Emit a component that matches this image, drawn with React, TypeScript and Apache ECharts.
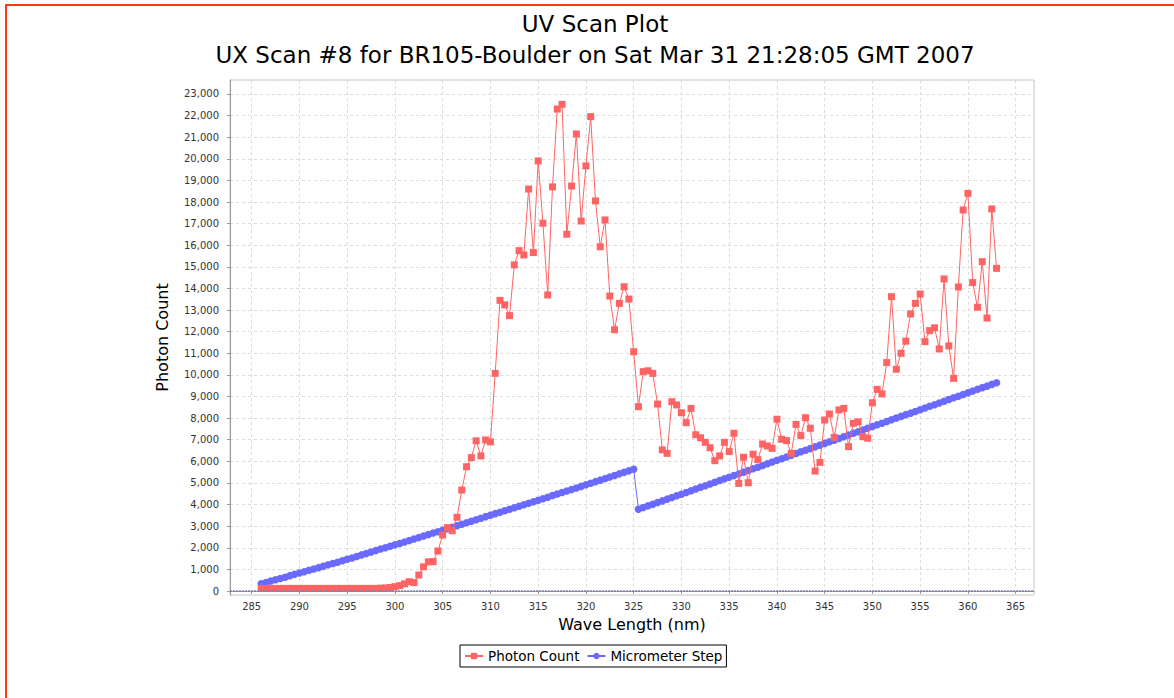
import React, { useEffect, useRef } from "react";
import * as echarts from "echarts";

const TITLE = "UV Scan Plot";
const SUBTITLE = "UX Scan #8 for BR105-Boulder on Sat Mar 31 21:28:05 GMT 2007";
const X_NAME = "Wave Length (nm)";
const Y_NAME = "Photon Count";
const SERIES_NAMES = ["Photon Count", "Micrometer Step"];

const WAVELENGTHS = [
  286, 286.5, 287, 287.5, 288, 288.5, 289, 289.5, 290, 290.5, 291, 291.5, 292, 292.5, 293, 293.5,
  294, 294.5, 295, 295.5, 296, 296.5, 297, 297.5, 298, 298.5, 299, 299.5, 300, 300.5, 301, 301.5,
  302, 302.5, 303, 303.5, 304, 304.5, 305, 305.5, 306, 306.5, 307, 307.5, 308, 308.5, 309, 309.5,
  310, 310.5, 311, 311.5, 312, 312.5, 313, 313.5, 314, 314.5, 315, 315.5, 316, 316.5, 317, 317.5,
  318, 318.5, 319, 319.5, 320, 320.5, 321, 321.5, 322, 322.5, 323, 323.5, 324, 324.5, 325, 325.5,
  326, 326.5, 327, 327.5, 328, 328.5, 329, 329.5, 330, 330.5, 331, 331.5, 332, 332.5, 333, 333.5,
  334, 334.5, 335, 335.5, 336, 336.5, 337, 337.5, 338, 338.5, 339, 339.5, 340, 340.5, 341, 341.5,
  342, 342.5, 343, 343.5, 344, 344.5, 345, 345.5, 346, 346.5, 347, 347.5, 348, 348.5, 349, 349.5,
  350, 350.5, 351, 351.5, 352, 352.5, 353, 353.5, 354, 354.5, 355, 355.5, 356, 356.5, 357, 357.5,
  358, 358.5, 359, 359.5, 360, 360.5, 361, 361.5, 362, 362.5, 363,
];

const PHOTON_COUNT = [
  120, 120, 120, 120, 120, 120, 120, 120, 120, 120, 120, 120, 120, 120, 120, 120,
  120, 120, 120, 120, 120, 120, 120, 120, 120, 130, 140, 160, 200, 250, 330, 430,
  390, 740, 1120, 1350, 1360, 1850, 2590, 2930, 2790, 3410, 4670, 5750, 6170, 6950, 6250, 6990,
  6900, 10070, 13450, 13240, 12740, 15090, 15750, 15550, 18600, 15660, 19900, 17020, 13700, 18700, 22300, 22520,
  16510, 18740, 21150, 17120, 19670, 21950, 18050, 15930, 17170, 13650, 12090, 13310, 14080, 13510, 11070, 8530,
  10150, 10190, 10070, 8650, 6530, 6370, 8760, 8610, 8250, 7790, 8450, 7230, 7090, 6880, 6630, 6030,
  6250, 6880, 6450, 7300, 4980, 6190, 5010, 6330, 6080, 6800, 6710, 6600, 7950, 7020, 6960, 6370,
  7710, 7190, 8020, 7530, 5550, 5950, 7910, 8190, 7110, 8380, 8450, 6680, 7760, 7830, 7140, 7070,
  8710, 9330, 9120, 10570, 13620, 10260, 11000, 11560, 12820, 13310, 13740, 11540, 12050, 12180, 11200, 14440,
  11340, 9840, 14070, 17630, 18400, 14270, 13130, 15240, 12630, 17680, 14930,
];

const MICROMETER_STEP = [
  330, 390, 460, 520, 580, 640, 710, 770, 830, 890, 960, 1020, 1080, 1140, 1210, 1270,
  1330, 1400, 1470, 1530, 1600, 1670, 1730, 1800, 1870, 1940, 2000, 2070, 2140, 2200, 2270, 2340,
  2410, 2470, 2540, 2610, 2680, 2740, 2810, 2880, 2950, 3020, 3090, 3160, 3230, 3300, 3370, 3440,
  3510, 3580, 3640, 3710, 3780, 3850, 3920, 3990, 4060, 4130, 4200, 4270, 4340, 4420, 4490, 4560,
  4630, 4700, 4770, 4840, 4920, 4990, 5060, 5130, 5200, 5270, 5340, 5420, 5490, 5560, 5630, 3780,
  3860, 3940, 4010, 4090, 4170, 4250, 4330, 4410, 4480, 4560, 4640, 4720, 4800, 4870, 4950, 5030,
  5110, 5190, 5260, 5340, 5420, 5500, 5580, 5660, 5730, 5810, 5890, 5970, 6050, 6120, 6200, 6280,
  6360, 6440, 6510, 6590, 6670, 6750, 6830, 6910, 6980, 7060, 7140, 7220, 7300, 7370, 7450, 7530,
  7610, 7690, 7760, 7840, 7920, 8000, 8080, 8160, 8230, 8310, 8390, 8470, 8550, 8620, 8700, 8780,
  8860, 8940, 9010, 9090, 9170, 9250, 9330, 9410, 9480, 9560, 9640,
];

const FONT = "DejaVu Sans";
const RED = "#ff6464";
const BLUE = "#6a6aff";

export default function App() {
  const ref = useRef<HTMLDivElement>(null);

  useEffect(() => {
    if (!ref.current) return;
    const chart = echarts.init(ref.current, null, { renderer: "svg" });
    const photon = WAVELENGTHS.map((w, i) => [w, PHOTON_COUNT[i]]);
    const micro = WAVELENGTHS.map((w, i) => [w, MICROMETER_STEP[i]]);

    chart.setOption({
      animation: false,
      backgroundColor: "#ffffff",
      textStyle: { fontFamily: FONT },
      graphic: [
        {
          type: "text",
          x: 595,
          y: 24,
          style: {
            text: TITLE,
            align: "center",
            verticalAlign: "middle",
            fontSize: 23,
            fontFamily: FONT,
            fill: "#000",
          },
        },
        {
          type: "text",
          x: 595,
          y: 55,
          style: {
            text: SUBTITLE,
            align: "center",
            verticalAlign: "middle",
            fontSize: 23,
            fontFamily: FONT,
            fill: "#000",
          },
        },
      ],
      legend: {
        data: SERIES_NAMES,
        left: 460,
        top: 645,
        orient: "horizontal",
        padding: [4, 4, 4, 4],
        itemGap: 7,
        itemWidth: 18,
        itemHeight: 8,
        borderColor: "#000",
        borderWidth: 1,
        textStyle: { fontSize: 13.5, color: "#000", fontFamily: FONT },
      },
      grid: {
        left: 230,
        right: 140,
        top: 80,
        bottom: 103,
        show: true,
        borderColor: "#c8c8c8",
        borderWidth: 1,
        backgroundColor: "#fff",
      },
      xAxis: {
        type: "value",
        min: 282.73,
        max: 366.92,
        splitNumber: 17,
        name: X_NAME,
        nameLocation: "middle",
        nameGap: 21,
        nameTextStyle: { fontSize: 16, color: "#000", fontFamily: FONT },
        axisLine: { show: true, lineStyle: { color: "#999", width: 1 } },
        axisTick: { show: true, length: 3, lineStyle: { color: "#999" } },
        axisLabel: {
          fontSize: 10,
          color: "#333",
          margin: 6,
          showMinLabel: false,
          showMaxLabel: false,
          formatter: (v: number) => (Math.abs(v / 5 - Math.round(v / 5)) < 1e-6 ? String(Math.round(v)) : ""),
        },
        splitLine: { show: true, lineStyle: { color: "#dcdcdc", type: [3, 3], width: 1 } },
      },
      yAxis: {
        type: "value",
        min: -185,
        max: 23646,
        splitNumber: 24,
        name: Y_NAME,
        nameLocation: "middle",
        nameGap: 60,
        nameTextStyle: { fontSize: 16, color: "#000", fontFamily: FONT },
        axisLine: { show: true, lineStyle: { color: "#999", width: 1 } },
        axisTick: { show: true, length: 3, lineStyle: { color: "#999" } },
        axisLabel: {
          fontSize: 10,
          color: "#333",
          margin: 11,
          showMinLabel: false,
          showMaxLabel: false,
          formatter: (v: number) =>
            Math.abs(v / 1000 - Math.round(v / 1000)) < 1e-6 ? Math.round(v).toLocaleString("en-US") : "",
        },
        splitLine: { show: true, lineStyle: { color: "#dcdcdc", type: [3, 3], width: 1 } },
      },
      series: [
        {
          name: SERIES_NAMES[1],
          type: "line",
          data: micro,
          symbol: "circle",
          symbolSize: 7.5,
          showAllSymbol: true,
          itemStyle: { color: BLUE },
          lineStyle: { color: BLUE, width: 1 },
          z: 2,
          markLine: {
            silent: true,
            symbol: "none",
            label: { show: false },
            data: [{ yAxis: 0 }],
            lineStyle: { color: "#7d7db4", type: [2, 1], width: 1.5 },
          },
        },
        {
          name: SERIES_NAMES[0],
          type: "line",
          data: photon,
          symbol: "rect",
          symbolSize: 7,
          showAllSymbol: true,
          itemStyle: { color: RED },
          lineStyle: { color: RED, width: 1 },
          z: 3,
        },
      ],
    });

    return () => chart.dispose();
  }, []);

  return (
    <div style={{ position: "fixed", left: 0, top: 0, width: 1174, height: 698, background: "#fff" }}>
      <div ref={ref} style={{ position: "absolute", left: 0, top: 0, width: 1174, height: 698 }} />
      <div
        style={{
          position: "absolute",
          left: 5,
          top: 4,
          width: 1169,
          height: 694,
          boxSizing: "border-box",
          borderTop: "2px solid #ff3a12",
          borderLeft: "2px solid #ff3a12",
          pointerEvents: "none",
        }}
      />
    </div>
  );
}
